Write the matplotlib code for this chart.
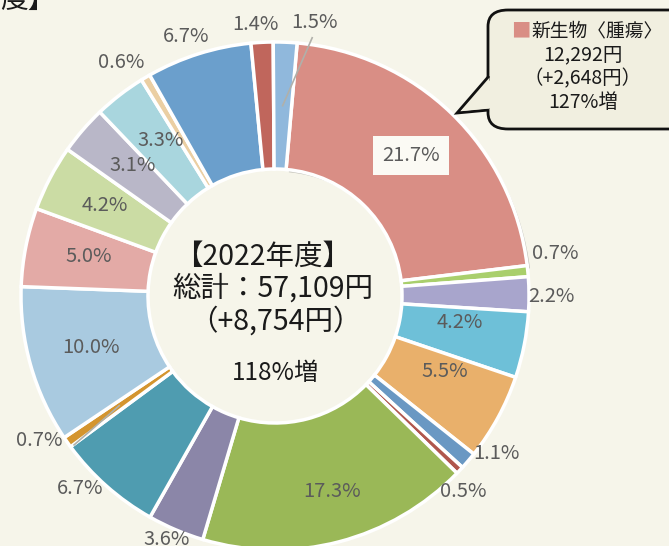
import numpy as np
import matplotlib
matplotlib.use("Agg")
import matplotlib.pyplot as plt
from matplotlib.patches import FancyBboxPatch, Polygon
import matplotlib.patheffects as pe

plt.rcParams['font.family'] = ['Noto Sans CJK JP', 'DejaVu Sans']

# ---- data -------------------------------------------------------------
shares = [21.7, 0.7, 2.2, 4.2, 5.5, 1.1, 0.5, 17.3, 3.6, 6.7,
          0.7, 10.0, 5.0, 4.2, 3.1, 3.3, 0.6, 6.7, 1.4, 1.5]
share_labels = [f"{v:.1f}%" for v in shares]
colors = ['#d98e85', '#a9cf6c', '#a8a5cc', '#6ec0d8', '#e9b06b',
          '#6a98c3', '#b0564d', '#9ab857', '#8b86a8', '#4f9cb0',
          '#d4952f', '#a9cae0', '#e3aaa6', '#cbdca4', '#b9b7c8',
          '#a9d6de', '#ebcfa3', '#6b9fcc', '#c0665c', '#90b8dc']
highlight_name = "新生物〈腫瘍〉"
highlight_lines = ["12,292円", "（+2,648円）", "127%増"]
center_lines = ["【2022年度】", "総計：57,109円", "（+8,754円）"]
center_growth = "118%増"

# ---- style: per-label placement (radius, angle nudge in degrees) -------
label_r = [0.77, 1.115, 1.09, 0.735, 0.73, 1.07, 1.07, 0.80, 1.05, 1.08,
           1.09, 0.75, 0.75, 0.757, 0.758, 0.76, 1.10, 1.08, 1.07, 1.09]
label_adj = [0, 3.1, -0.4, 3, 4.6, 5, -2.7, 1.7, -1, -3.8,
             -3.6, -0.3, -0.9, -0.3, -1.7, -1.3, 2.7, 1.3, 1.3, -6]
start = 85.0

W, H = 669, 546
cx, cy, R = 275.0, 296.0, 254.0
bg = '#f6f5ea'

fig = plt.figure(figsize=(W / 100, H / 100), dpi=100, facecolor=bg)
ax = fig.add_axes([0, 0, 1, 1])
ax.set_facecolor(bg)

wedges, _ = ax.pie(shares, colors=colors, startangle=start, counterclock=False,
                   radius=1.0,
                   wedgeprops=dict(width=0.5, edgecolor='white', linewidth=2.5))
wedges[0].set_path_effects([pe.SimplePatchShadow(offset=(2, -2), shadow_rgbFace='#9a9a94', alpha=0.6),
                            pe.Normal()])

ax.set_xlim(-cx / R, (W - cx) / R)
ax.set_ylim(-(H - cy) / R, cy / R)
ax.set_aspect('equal')
ax.axis('off')

# labels
cum = np.cumsum([0] + shares[:-1])
for i, v in enumerate(shares):
    mid = start - (cum[i] + v / 2) * 3.6
    ang = np.deg2rad(mid + label_adj[i])
    x, y = label_r[i] * np.cos(ang), label_r[i] * np.sin(ang)
    kw = dict(ha='center', va='center', fontsize=14.5, color='#5b5b5b')
    if i == 0:
        kw['bbox'] = dict(boxstyle='square,pad=0.45', facecolor='#fbfaf4', edgecolor='none')
    ax.text(x, y, share_labels[i], **kw)

# leader lines for two thin slices
for i, (dxp, dyp) in {19: (-0.011, -0.062), 10: (0.138, -0.016)}.items():
    mid = np.deg2rad(start - (cum[i] + shares[i] / 2) * 3.6)
    ang = np.deg2rad(start - (cum[i] + shares[i] / 2) * 3.6 + label_adj[i])
    lx, ly = label_r[i] * np.cos(ang) + dxp, label_r[i] * np.sin(ang) + dyp
    ax.plot([0.75 * np.cos(mid), lx], [0.75 * np.sin(mid), ly],
            color='#b0b0aa', lw=1.2, zorder=3)

# center text
def fy(py):
    return 1 - py / H

fig.text(263 / W, fy(257), center_lines[0], ha='center', va='center', fontsize=20.5, color='#1a1a1a')
fig.text(273 / W, fy(289), center_lines[1], ha='center', va='center', fontsize=20.5, color='#1a1a1a')
fig.text(275 / W, fy(322), center_lines[2], ha='center', va='center', fontsize=20.5, color='#1a1a1a')
fig.text(275 / W, fy(373), center_growth, ha='center', va='center', fontsize=17.5, color='#1a1a1a')

# callout box
box = FancyBboxPatch((488 / W, fy(129)), (700 - 488) / W, (129 - 10) / H,
                     boxstyle='round,pad=0,rounding_size=0.03',
                     transform=fig.transFigure, facecolor='#f1efe0',
                     edgecolor='#111111', linewidth=2, zorder=5)
fig.patches.append(box)
tail = Polygon([(489 / W, fy(76)), (457 / W, fy(113)), (489 / W, fy(110))],
               closed=False, transform=fig.transFigure, facecolor='#f1efe0',
               edgecolor='#111111', linewidth=2, zorder=6)
fig.patches.append(tail)
cover = Polygon([(492 / W, fy(78)), (461 / W, fy(111)), (492 / W, fy(108))],
                closed=True, transform=fig.transFigure, facecolor='#f1efe0',
                edgecolor='none', zorder=7)
fig.patches.append(cover)

fig.text(511 / W, fy(31), "■", ha='left', va='center', fontsize=14, color=colors[0], zorder=8)
fig.text(531 / W, fy(31), highlight_name, ha='left', va='center', fontsize=13.5, color='#1a1a1a', zorder=8)
for txt, py in zip(highlight_lines, [55, 79, 102]):
    fig.text(583 / W, fy(py), txt, ha='center', va='center', fontsize=14, color='#1a1a1a', zorder=8)

# clipped title fragment at the top-left
fig.text(0 / W, fy(15), "度】", ha='left', va='bottom', fontsize=20, color='#1a1a1a')

fig.savefig("out.png", dpi=100, facecolor=bg)
